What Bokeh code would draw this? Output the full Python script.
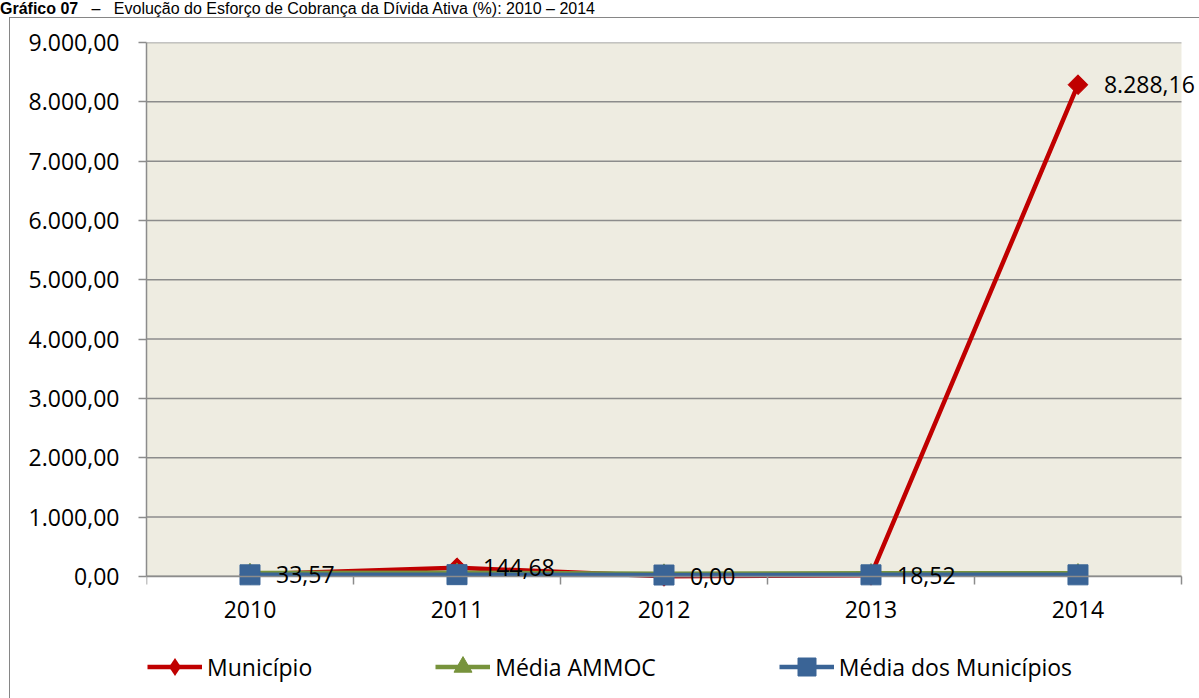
import numpy as np
from bokeh.plotting import figure
from bokeh.models import (Div, FixedTicker, Legend, LegendItem, LabelSet,
                          ColumnDataSource, Range1d)
from bokeh.layouts import column
from bokeh.embed import file_html
from bokeh.resources import INLINE
from bokeh.core.properties import value

# ---------------- data ----------------
years = ["2010", "2011", "2012", "2013", "2014"]
municipio = [33.57, 144.68, 0.00, 18.52, 8288.16]
media_ammoc = [55.0, 60.0, 45.0, 50.0, 50.0]
media_municipios = [25.0, 28.0, 22.0, 25.0, 25.0]
municipio_labels = ["33,57", "144,68", "0,00", "18,52", "8.288,16"]
y_ticks = [0, 1000, 2000, 3000, 4000, 5000, 6000, 7000, 8000, 9000]
y_tick_labels = ["0,00", "1.000,00", "2.000,00", "3.000,00", "4.000,00",
                 "5.000,00", "6.000,00", "7.000,00", "8.000,00", "9.000,00"]
series_names = ["Município", "Média AMMOC", "Média dos Municípios"]
title_bold = "Gráfico 07"
title_rest = "Evolução do Esforço de Cobrança da Dívida Ativa (%): 2010 – 2014"

# ---------------- styling ----------------
FONT = "Open Sans"
FS = "23px"
RED = "#C00000"
GREEN = "#77933C"
BLUE = "#3A6496"
GRID = "#8C8C8C"
BG = "#EEECE1"

# geometry (pixels)
FRAME_W, FRAME_H = 1053, 646
AREA_W, AREA_H = 1034, 533          # beige plot area inside the frame
n = len(years)
y_lo, y_hi = y_ticks[0], y_ticks[-1]
x_end = n * FRAME_W / AREA_W
y_start = y_lo - (FRAME_H - AREA_H) * (y_hi - y_lo) / AREA_H

x_pos = [i + 0.5 for i in range(n)]
src = ColumnDataSource(dict(x=x_pos, mun=municipio, amm=media_ammoc,
                            med=media_municipios, lab=municipio_labels))
year_src = ColumnDataSource(dict(x=x_pos, y=[y_lo] * n, year=years))

p = figure(frame_width=FRAME_W, frame_height=FRAME_H,
           output_backend="svg", toolbar_location=None,
           x_range=Range1d(0, x_end), y_range=Range1d(y_start, y_hi),
           min_border_left=136, min_border_right=0, min_border_top=24,
           min_border_bottom=10, margin=(0, 0, 0, 9))
p.styles = {"border-left": "1px solid #868686", "border-top": "1px solid #868686"}
p.background_fill_color = "white"
p.border_fill_color = "white"
p.outline_line_color = None

# plot area background + horizontal gridlines
p.quad(left=0, right=n, bottom=y_lo, top=y_hi, fill_color=BG, line_color=None)
p.segment(x0=[0] * len(y_ticks), y0=y_ticks, x1=[n] * len(y_ticks), y1=y_ticks,
          line_color=GRID, line_width=1.5)
p.xgrid.grid_line_color = None
p.ygrid.grid_line_color = None

# axes
xa = p.xaxis[0]
xa.fixed_location = 0
xa.bounds = (0, n)
xa.ticker = FixedTicker(ticks=x_pos, minor_ticks=list(range(n + 1)))
xa.major_label_overrides = {xp: "" for xp in x_pos}
xa.major_tick_out = 0
xa.major_tick_in = 0
xa.minor_tick_out = 8
xa.minor_tick_in = 0
xa.minor_tick_line_color = GRID
xa.minor_tick_line_width = 1.5
xa.major_label_standoff = 0

ya = p.yaxis[0]
ya.bounds = (y_lo, y_hi)
ya.ticker = FixedTicker(ticks=y_ticks)
ya.major_label_overrides = {t: l for t, l in zip(y_ticks, y_tick_labels)}
ya.major_tick_out = 8
ya.major_tick_in = 0
ya.minor_tick_out = 0
ya.minor_tick_in = 0
ya.major_tick_line_color = GRID
ya.major_tick_line_width = 1.5
ya.major_label_standoff = 19
ya.major_label_text_font = FONT
ya.major_label_text_font_size = FS
ya.major_label_text_color = "black"

for ax in (xa, ya):
    ax.axis_line_color = GRID
    ax.axis_line_width = 1.5

# category labels under the x axis
year_labels = LabelSet(x="x", y="y", text="year", source=year_src, y_offset=-33,
                       text_align="center", text_baseline="middle",
                       text_font=value(FONT), text_font_size=value(FS),
                       text_color="black")
p.add_layout(year_labels)

# series
l1 = p.line("x", "mun", source=src, line_color=RED, line_width=4.5)
# diamond used as the legend key (hidden under the rotated squares in the plot)
m1_key = p.scatter("x", "mun", source=src, marker="diamond", size=19,
                   fill_color=RED, line_color=None)
m1 = p.scatter("x", "mun", source=src, marker="square", size=14, angle=np.pi / 4,
               fill_color=RED, line_color=RED)
l2 = p.line("x", "amm", source=src, line_color=GREEN, line_width=4.5)
m2 = p.scatter("x", "amm", source=src, marker="triangle", size=17,
               fill_color=GREEN, line_color=GREEN)
l3 = p.line("x", "med", source=src, line_color=BLUE, line_width=4.5)
m3 = p.scatter("x", "med", source=src, marker="square", size=20,
               fill_color=BLUE, line_color=BLUE)

labels = LabelSet(x="x", y="mun", text="lab", source=src, x_offset=26,
                  text_align="left", text_baseline="middle",
                  text_font=value(FONT), text_font_size=value(FS),
                  text_color="black")
p.add_layout(labels)

legend = Legend(items=[LegendItem(label=series_names[0], renderers=[l1, m1_key]),
                       LegendItem(label=series_names[1], renderers=[l2, m2]),
                       LegendItem(label=series_names[2], renderers=[l3, m3])],
                orientation="horizontal", location=(1, 0),
                glyph_width=55, glyph_height=45, label_height=45,
                label_standoff=5, spacing=123,
                padding=0, margin=0, border_line_color=None,
                background_fill_alpha=0, label_text_font=FONT,
                label_text_font_size=FS, label_text_color="black")
p.add_layout(legend, "center")

title = Div(text=f"<b>{title_bold}</b>&nbsp;&nbsp;&nbsp;–&nbsp;&nbsp;&nbsp;{title_rest}",
            width=1199, height=17, margin=(0, 0, 0, 0),
            styles={"font-family": "Liberation Sans", "font-size": "16px",
                    "line-height": "17px", "color": "black"})

layout = column(title, p, spacing=0)
open("out.html", "w").write(file_html(layout, INLINE))
